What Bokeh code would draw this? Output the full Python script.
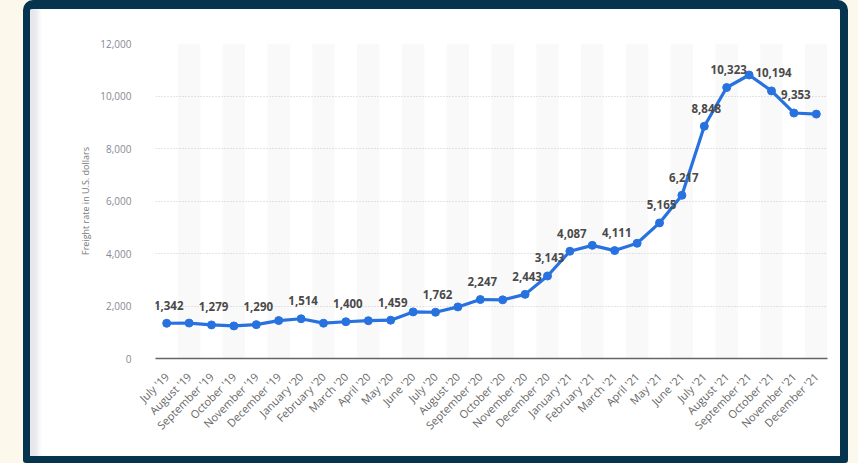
from bokeh.plotting import figure
from bokeh.models import Range1d, FactorRange, NumeralTickFormatter, ColumnDataSource, Column
from bokeh.core.properties import value
from bokeh.embed import file_html
from bokeh.resources import INLINE
from math import pi

months = ["July '19", "August '19", "September '19", "October '19", "November '19", "December '19",
          "January '20", "February '20", "March '20", "April '20", "May '20", "June '20",
          "July '20", "August '20", "September '20", "October '20", "November '20", "December '20",
          "January '21", "February '21", "March '21", "April '21", "May '21", "June '21",
          "July '21", "August '21", "September '21", "October '21", "November '21", "December '21"]
rates = [1342, 1350, 1279, 1240, 1290, 1445, 1514, 1345, 1400, 1440, 1459, 1775,
         1762, 1965, 2247, 2235, 2443, 3143, 4087, 4310, 4111, 4390, 5165, 6217,
         8848, 10323, 10800, 10194, 9353, 9310]
labeled = [0, 2, 4, 6, 8, 10, 12, 14, 16, 17, 18, 20, 22, 23, 24, 25, 27, 28]
y_ticks = [0, 2000, 4000, 6000, 8000, 10000, 12000]
y_title = "Freight rate in U.S. dollars"

FONT = "Open Sans"
BLUE = "#2872e0"

p = figure(width=810, height=447, x_range=FactorRange(*months, range_padding=0),
           y_range=Range1d(0, 12000), output_backend="svg", toolbar_location=None,
           min_border_left=125, min_border_right=13, min_border_top=34, min_border_bottom=98)
p.border_fill_color = None
p.background_fill_color = "white"
p.outline_line_color = None

# alternating column bands
band_src = ColumnDataSource(dict(x=months[1::2], top=[y_ticks[-1]] * len(months[1::2])))
bands = p.vbar(x="x", top="top", bottom=0, width=1, source=band_src,
               fill_color="#f9f9f9", line_color=None)
bands.level = "image"

src = ColumnDataSource(dict(x=months, y=rates))
p.line("x", "y", source=src, line_color=BLUE, line_width=3.2)
p.scatter("x", "y", source=src, size=8, fill_color=BLUE, line_color=BLUE)

lab_src = ColumnDataSource(dict(x=[months[i] for i in labeled], y=[rates[i] for i in labeled],
                                t=[f"{rates[i]:,}" for i in labeled]))
p.text("x", "y", text="t", source=lab_src, x_offset=2, y_offset=-18, text_align="center",
       text_baseline="middle", text_font=value(FONT), text_font_size="11.5px",
       text_font_style="bold", text_color="#4a4a4a")

p.xgrid.grid_line_color = None
p.ygrid.grid_line_color = "#c8c8c8"
p.ygrid.grid_line_dash = "1 2"
p.ygrid.grid_line_width = 1
p.ygrid.level = "underlay"

p.yaxis.ticker = y_ticks
p.yaxis.formatter = NumeralTickFormatter(format="0,0")
p.yaxis.axis_line_color = None
p.yaxis.major_tick_line_color = None
p.yaxis.minor_tick_line_color = None
p.yaxis.major_label_standoff = 18
p.yaxis.major_label_text_font = FONT
p.yaxis.major_label_text_font_size = "10px"
p.yaxis.major_label_text_color = "#858a94"
p.yaxis.axis_label = y_title
p.yaxis.axis_label_text_font = FONT
p.yaxis.axis_label_text_font_size = "9px"
p.yaxis.axis_label_text_font_style = "normal"
p.yaxis.axis_label_text_color = "#777777"
p.yaxis.axis_label_standoff = 5

p.xaxis.axis_line_color = "#666666"
p.xaxis.axis_line_width = 1.6
p.xaxis.major_tick_line_color = None
p.xaxis.minor_tick_line_color = None
p.xaxis.major_label_orientation = pi / 4
p.xaxis.major_label_standoff = 10
p.xaxis.major_label_text_font = FONT
p.xaxis.major_label_text_font_size = "11px"
p.xaxis.major_label_text_color = "#666666"

card = Column(p, margin=(0, 10, 0, 23), styles={
    "border-style": "solid",
    "border-color": "#06344f",
    "border-width": "9px 8px 7px 7px",
    "border-radius": "10px 10px 3px 3px",
    "background-color": "white",
    "box-shadow": "inset 11px 0 5px -3px #e6e6ec",
})
page = Column(card, styles={"background-color": "#fdf8ec"})

open("out.html", "w").write(file_html(page, INLINE))
